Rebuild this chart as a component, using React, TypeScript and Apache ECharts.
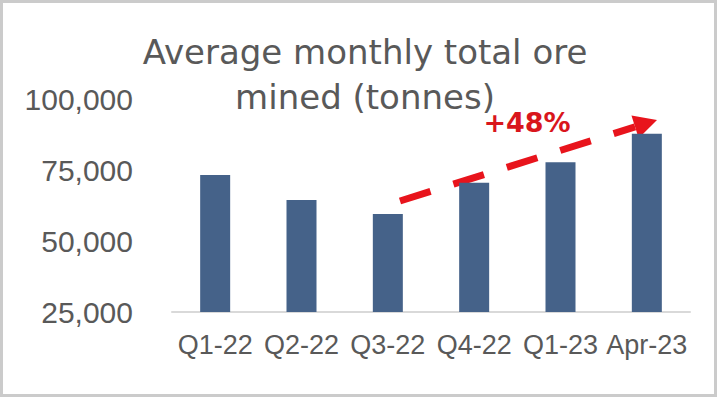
import React, { useEffect, useRef } from "react";
import * as echarts from "echarts";

const categories = ["Q1-22", "Q2-22", "Q3-22", "Q4-22", "Q1-23", "Apr-23"];
const oreMined = [73200, 64400, 59500, 70500, 77700, 87800];
const yTicks = { min: 25000, max: 100000, interval: 25000 };
const titleLines = ["Average monthly total ore", "mined (tonnes)"];
const growthLabel = "+48%";

export default function App() {
  const ref = useRef<HTMLDivElement>(null);
  useEffect(() => {
    if (!ref.current) return;
    const chart = echarts.init(ref.current, undefined, { renderer: "svg" });
    const start = [400, 201];
    const tip = [657, 120];
    const dx = tip[0] - start[0];
    const dy = tip[1] - start[1];
    const len = Math.sqrt(dx * dx + dy * dy);
    const ux = dx / len;
    const uy = dy / len;
    const headLen = 23;
    const headHalf = 12;
    const base = [tip[0] - headLen * ux, tip[1] - headLen * uy];
    const nx = -uy;
    const ny = ux;
    chart.setOption({
      animation: false,
      backgroundColor: "#ffffff",
      title: {
        text: titleLines.join("\n"),
        left: 360,
        top: 24,
        textAlign: "center",
        textStyle: {
          fontFamily: "DejaVu Sans",
          fontSize: 34,
          fontWeight: "normal",
          color: "#595959",
          lineHeight: 45,
        },
      },
      grid: { left: 172, right: 27, top: 99, bottom: 85 },
      xAxis: {
        type: "category",
        data: categories,
        axisLine: { lineStyle: { color: "#d9d9d9", width: 2 } },
        axisTick: { show: false },
        axisLabel: {
          interval: 0,
          hideOverlap: false,
          color: "#595959",
          fontFamily: "Liberation Sans",
          fontSize: 27,
          margin: 19,
        },
      },
      yAxis: {
        type: "value",
        min: yTicks.min,
        max: yTicks.max,
        interval: yTicks.interval,
        splitLine: { show: false },
        axisLine: { show: false },
        axisTick: { show: false },
        axisLabel: {
          color: "#595959",
          fontFamily: "Liberation Sans",
          fontSize: 30,
          margin: 39,
          formatter: (v: number) => v.toLocaleString("en-US"),
        },
      },
      series: [
        {
          type: "bar",
          data: oreMined,
          barWidth: 30,
          itemStyle: { color: "#456289" },
        },
      ],
      graphic: [
        {
          type: "rect",
          shape: { x: 1.5, y: 1.5, width: 714, height: 394 },
          style: { fill: "none", stroke: "#cbcbcb", lineWidth: 3 },
          silent: true,
        },
        {
          type: "line",
          shape: { x1: start[0], y1: start[1], x2: base[0], y2: base[1] },
          style: { stroke: "#e8141c", lineWidth: 7, lineDash: [32, 24], lineCap: "butt" },
        },
        {
          type: "polygon",
          shape: {
            points: [
              tip,
              [base[0] + nx * headHalf, base[1] + ny * headHalf],
              [base[0] - nx * headHalf, base[1] - ny * headHalf],
            ],
          },
          style: { fill: "#e8141c" },
        },
        {
          type: "text",
          x: 527,
          y: 122,
          style: {
            text: growthLabel,
            fontFamily: "DejaVu Sans",
            fontWeight: "bold",
            fontSize: 27,
            fill: "#d9161c",
            textAlign: "center",
            textVerticalAlign: "middle",
          },
        },
      ],
    });
    return () => chart.dispose();
  }, []);
  return (
    <div
      ref={ref}
      style={{ position: "fixed", left: 0, top: 0, width: 717, height: 397, background: "#fff" }}
    />
  );
}
